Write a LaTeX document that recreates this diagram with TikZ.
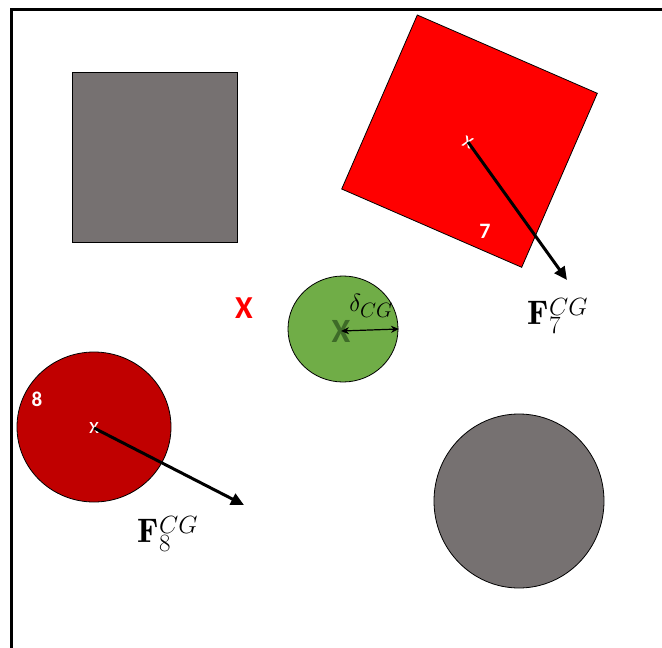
\documentclass[tikz,border=0pt]{standalone}
\usepackage{fontspec}
\newfontfamily\calfont{Carlito}
\usetikzlibrary{arrows.meta}
\definecolor{grayfill}{HTML}{767171}
\definecolor{darkred}{HTML}{C00000}
\definecolor{greenfill}{HTML}{70AD47}
\definecolor{darkgreenx}{HTML}{3E6B28}
\tikzset{
  body/.style={draw=black, line width=0.8pt},
  force/.style={line width=3pt, -{Triangle[length=13pt,width=12pt]}},
  whitelab/.style={text=white, font=\calfont\bfseries\fontsize{22}{24}\selectfont, inner sep=0pt},
  marker/.style={text=white, font=\calfont\fontsize{23}{24}\selectfont, inner sep=0pt},
  flab/.style={font=\fontsize{34}{36}\selectfont, inner sep=0pt}
}
\begin{document}
\begin{tikzpicture}[x=1pt,y=-1pt]
\useasboundingbox (0,0) rectangle (662,648);
% frame
\draw[line width=3pt] (11,648) -- (11,9) -- (662,9);
% gray square
\filldraw[body, fill=grayfill] (72,72) rectangle (237,242);
% red rotated square
\filldraw[body, fill=red] (417.3,15) -- (597.3,93.3) -- (521.7,267.3) -- (341.7,189) -- cycle;
\node[marker, rotate=-23.5] (c7) at (468,142) {x};
\node[whitelab] (n7) at (485,231) {7};
\coordinate (t7) at (567,280);
\draw[force] (c7.center) -- (t7);
\node[flab] (f7) at (558,316) {$\mathbf{F}_7^{CG}$};
% green circle
\filldraw[body, fill=greenfill] (343,329) ellipse (55 and 53);
\node[text=darkgreenx, font=\calfont\bfseries\fontsize{34}{36}\selectfont, inner sep=0pt] (gx) at (341,331) {X};
\coordinate (ge) at (399,329);
\draw[line width=1.2pt, {Stealth[length=8pt,width=7pt]}-{Stealth[length=8pt,width=7pt]}] (gx.center) -- (ge);
\node[font=\fontsize{30}{32}\selectfont, inner sep=0pt] (delta) at (371,306) {$\delta_{CG}$};
% red X
\node[text=red, font=\calfont\bfseries\fontsize{32}{34}\selectfont, inner sep=0pt] (rx) at (244,308) {X};
% dark red circle
\filldraw[body, fill=darkred] (94,427) ellipse (77 and 75);
\node[marker] (c8) at (94,428) {x};
\node[whitelab, font=\calfont\bfseries\fontsize{21}{22}\selectfont] (n8) at (37,399) {8};
\coordinate (t8) at (244,505);
\draw[force] (c8.center) -- (t8);
\node[flab] (f8) at (168,534) {$\mathbf{F}_8^{CG}$};
% gray circle
\filldraw[body, fill=grayfill] (519,501) ellipse (85 and 87);
\end{tikzpicture}
\end{document}
